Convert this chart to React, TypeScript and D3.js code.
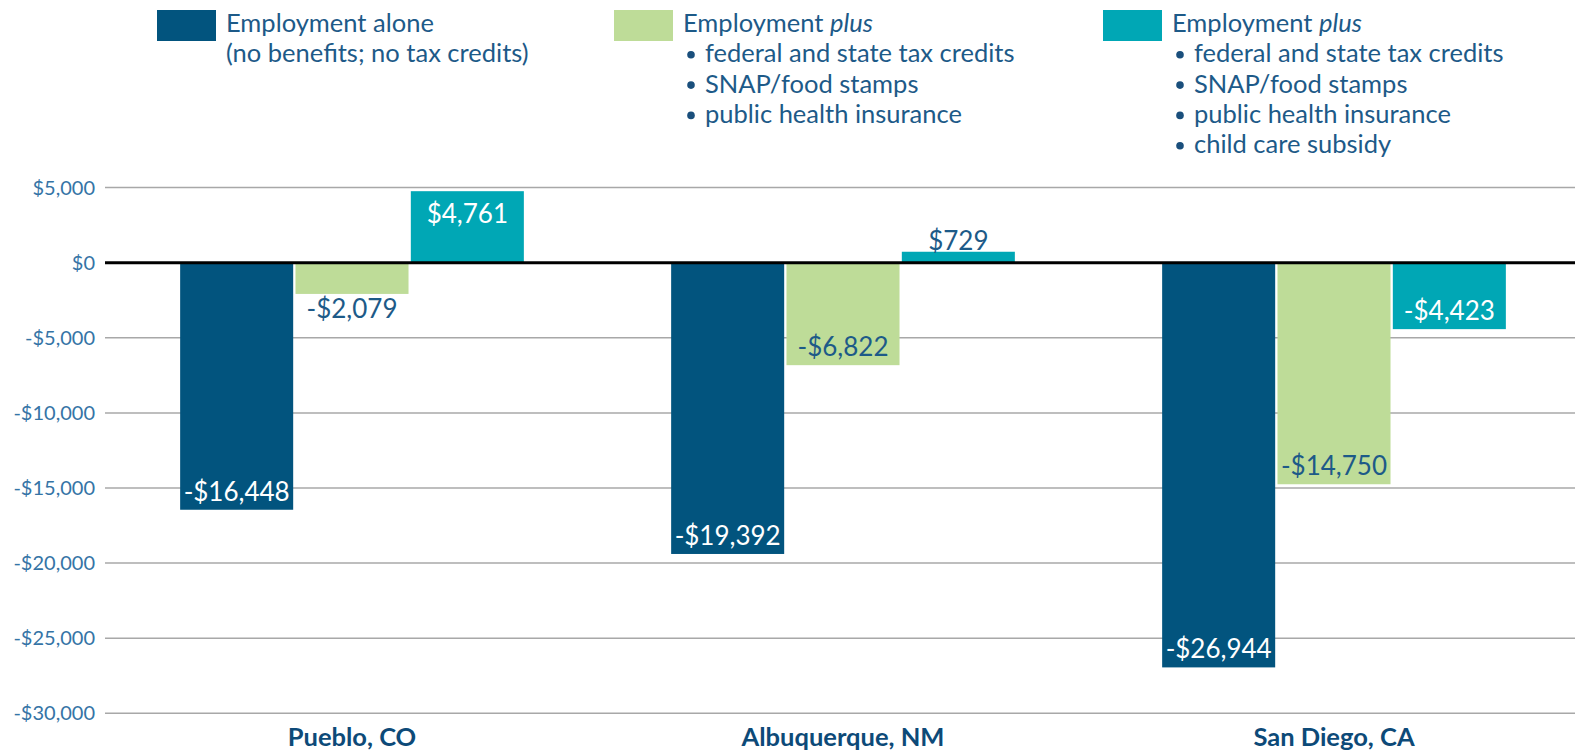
import React, { useEffect } from "react";
import * as d3 from "d3";

const categories = ["Pueblo, CO", "Albuquerque, NM", "San Diego, CA"];
const seriesKeys = ["alone", "plusBenefits", "plusChildCare"];
const employmentAlone = [-16448, -19392, -26944];
const employmentPlusBenefits = [-2079, -6822, -14750];
const employmentPlusChildCare = [4761, 729, -4423];
const yTicks = [5000, 0, -5000, -10000, -15000, -20000, -25000, -30000];

const legendItems = [
  { title: ["Employment ", "alone"], italic: false, lines: ["(no benefits; no tax credits)"], bullets: false },
  { title: ["Employment ", "plus"], italic: true, lines: ["federal and state tax credits", "SNAP/food stamps", "public health insurance"], bullets: true },
  { title: ["Employment ", "plus"], italic: true, lines: ["federal and state tax credits", "SNAP/food stamps", "public health insurance", "child care subsidy"], bullets: true },
];

const W = 1575;
const H = 754;
const colors = ["#02547e", "#bedc98", "#00a7b5"];
const labelInside = ["#ffffff", "#1d5a88", "#ffffff"];
const textBlue = "#1d5a88";
const tickBlue = "#3574a6";
const FONT = "Lato, 'Open Sans', sans-serif";

export default function App() {
  useEffect(() => {
    document.body.style.margin = "0";
  }, []);

  const values = [employmentAlone, employmentPlusBenefits, employmentPlusChildCare];
  const plotLeft = 105;
  const plotRight = W;
  const y = d3.scaleLinear().domain([-30000, 5000]).range([713.3, 187.6]);
  const x0 = d3.scaleBand<string>().domain(categories).range([106.5, 1579.5]).paddingInner(0.3).paddingOuter(0.15);
  const x1 = d3.scaleBand<string>().domain(seriesKeys).range([0, x0.bandwidth()]).paddingInner(0.02);
  const fmt = (v: number) => (v < 0 ? "-$" : "$") + d3.format(",")(Math.abs(v));
  const legendX = [157, 614, 1103];
  const LF = 25.5;

  return (
    <svg width={W} height={H} style={{ display: "block", background: "#fff" }} fontFamily={FONT}>
      {yTicks.filter((t) => t !== 0).map((t) => (
        <line key={t} x1={plotLeft} x2={plotRight} y1={y(t)} y2={y(t)} stroke="#a8a8a8" strokeWidth={1.5} />
      ))}
      {yTicks.map((t) => (
        <text key={"l" + t} x={95} y={y(t)} dy="0.35em" textAnchor="end" fontSize={20} fill={tickBlue}>
          {fmt(t)}
        </text>
      ))}
      {categories.map((c, ci) => (
        <g key={c} transform={`translate(${x0(c)},0)`}>
          {seriesKeys.map((k, si) => {
            const v = values[si][ci];
            const bx = x1(k)!;
            const bw = x1.bandwidth();
            const top = Math.min(y(v), y(0));
            const h = Math.abs(y(v) - y(0));
            const inside = h > 45;
            let ty: number;
            let fill: string;
            if (inside) {
              fill = labelInside[si];
              ty = v < 0 ? top + h - 9 : top + 32;
            } else {
              fill = textBlue;
              ty = v < 0 ? top + h + 24 : top - 2;
            }
            return (
              <g key={k}>
                <rect x={bx} y={top} width={bw} height={h} fill={colors[si]} />
                <text x={bx + bw / 2} y={ty} textAnchor="middle" fontSize={26} fill={fill}>
                  {fmt(v)}
                </text>
              </g>
            );
          })}
        </g>
      ))}
      <line x1={plotLeft} x2={plotRight} y1={y(0)} y2={y(0)} stroke="#000" strokeWidth={3} />
      {categories.map((c) => (
        <text key={"c" + c} x={x0(c)! + x0.bandwidth() / 2} y={746} textAnchor="middle" fontSize={25.5} fontWeight="bold" fill="#0d4a78">
          {c}
        </text>
      ))}
      {legendItems.map((item, i) => {
        const lx = legendX[i];
        return (
          <g key={"lg" + i}>
            <rect x={lx} y={10} width={59} height={31} fill={colors[i]} />
            <text x={lx + 69} y={32} fontSize={LF} fill={textBlue}>
              {item.title[0]}
              <tspan fontStyle={item.italic ? "italic" : "normal"}>{item.title[1]}</tspan>
            </text>
            {item.lines.map((ln, li) => (
              <g key={li}>
                {item.bullets ? (
                  <>
                    <circle cx={lx + 77} cy={32 + 30.3 * (li + 1) - 7.5} r={3.8} fill="#1a4f7c" />
                    <text x={lx + 91} y={32 + 30.3 * (li + 1)} fontSize={LF} fill={textBlue}>
                      {ln}
                    </text>
                  </>
                ) : (
                  <text x={lx + 69} y={32 + 30.3 * (li + 1)} fontSize={LF} fill={textBlue}>
                    {ln}
                  </text>
                )}
              </g>
            ))}
          </g>
        );
      })}
    </svg>
  );
}
